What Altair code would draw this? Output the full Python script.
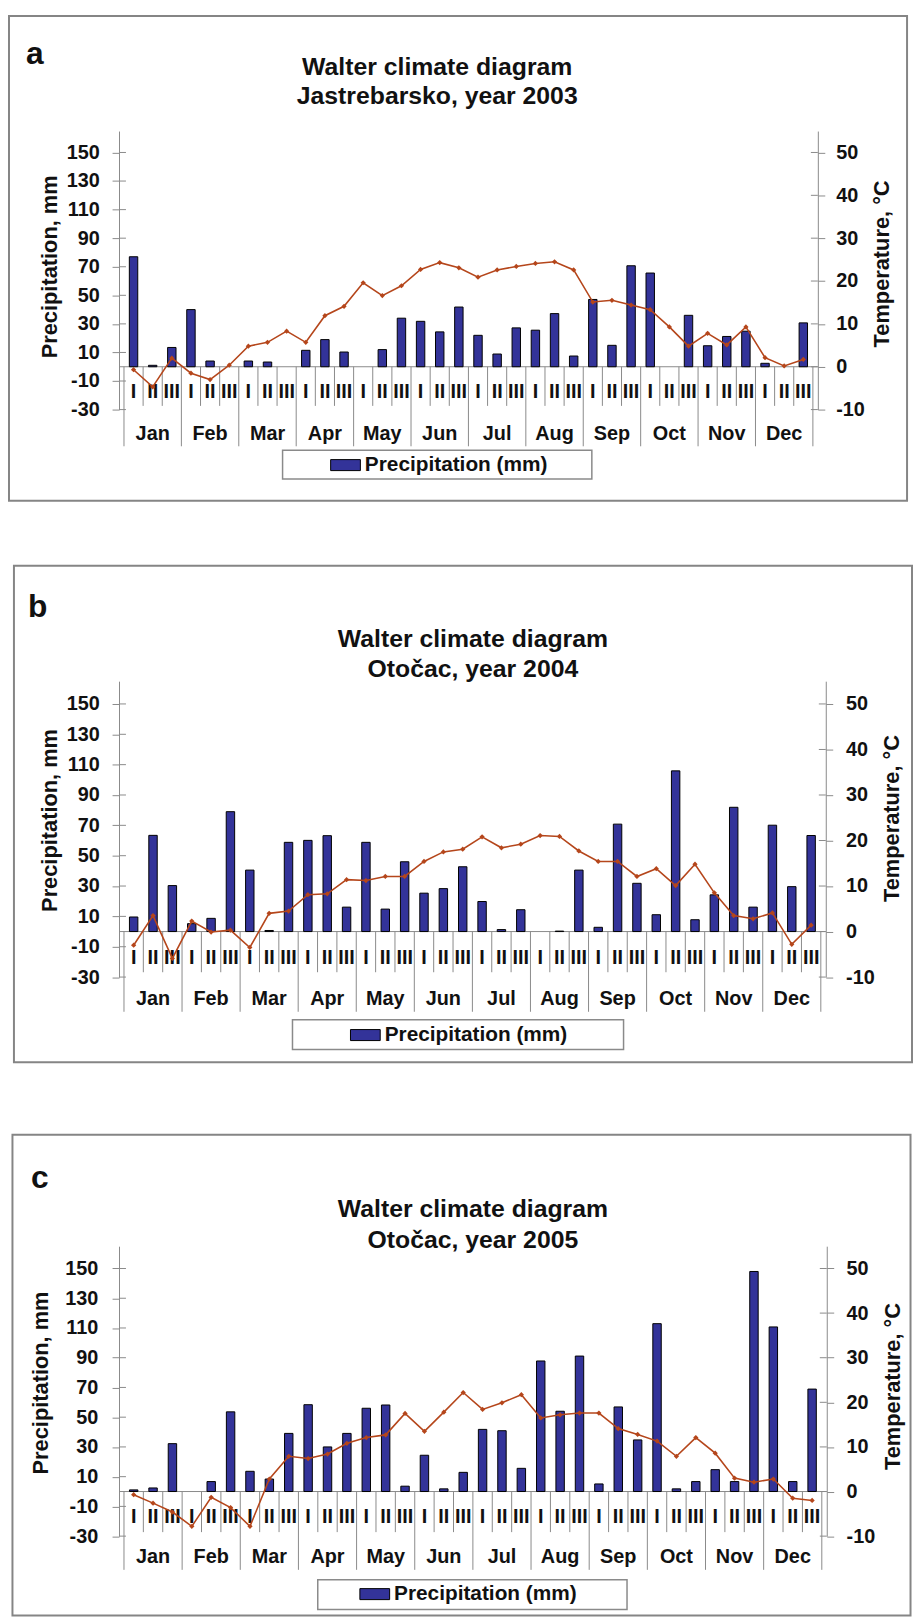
import altair as alt
import pandas as pd

# ---------------- data ----------------
MONTHS = ["Jan", "Feb", "Mar", "Apr", "May", "Jun", "Jul", "Aug", "Sep", "Oct", "Nov", "Dec"]
DEKADS = ["I", "II", "III"]

P_2003 = [77, 1, 13.5, 40, 4, 0, 4, 3.3, 0, 11.5, 19, 10.3, 0, 12, 34, 31.8, 24.4, 41.8,
          22, 8.9, 27.2, 25.6, 37.2, 7.5, 47.1, 15, 70.7, 65.6, 0, 36, 14.7, 21.2, 24.9, 2.4, 0, 30.7]
T_2003 = [-0.7, -4.7, 2.0, -1.5, -3.0, 0.35, 4.8, 5.7, 8.3, 5.7, 11.9, 14.1, 19.6, 16.6, 18.9, 22.7, 24.3, 23.1,
          20.9, 22.6, 23.4, 24.1, 24.5, 22.6, 15.1, 15.5, 14.4, 13.3, 9.3, 4.8, 7.8, 5.1, 9.3, 2.1, 0.2, 1.7]

P_2004 = [9.6, 63.4, 30.3, 5.2, 8.7, 79, 40.5, 0.7, 58.8, 60.1, 63.2, 16.1, 58.8, 14.8, 46, 25.3, 28.3, 42.7,
          19.8, 1.3, 14.4, 0, 0.3, 40.5, 2.8, 70.8, 31.8, 11.1, 105.9, 7.8, 24.2, 81.9, 16.1, 70.1, 29.6, 63.3]
T_2004 = [-3.0, 3.5, -5.9, 2.3, -0.1, 0.3, -3.5, 4.0, 4.5, 8.1, 8.3, 11.4, 11.2, 12.1, 12.1, 15.4, 17.5, 18.1,
          20.8, 18.4, 19.2, 21.1, 20.9, 17.7, 15.4, 15.4, 12.1, 13.8, 10.1, 14.8, 8.5, 3.5, 2.8, 4.1, -2.8, 1.4]

P_2005 = [1.1, 2.4, 32.2, 0, 6.7, 53.6, 13.6, 8.4, 39.1, 58.4, 30, 39.1, 56, 58.2, 3.6, 24.4, 1.8, 12.9,
          41.8, 40.9, 15.6, 87.8, 54, 91.1, 5.1, 56.9, 34.7, 112.9, 1.8, 6.7, 14.7, 6.7, 148, 110.7, 6.7, 68.9]
T_2005 = [-0.7, -2.6, -4.6, -7.8, -1.3, -3.6, -7.8, 2.8, 7.9, 7.4, 8.4, 10.8, 12.1, 12.7, 17.5, 13.5, 17.8, 22.2,
          18.4, 19.9, 21.7, 16.5, 17.2, 17.6, 17.6, 14.1, 12.8, 11.3, 7.9, 12.1, 8.6, 3.0, 2.1, 2.8, -1.5, -2.0]

P_TICKS = [-30, -10, 10, 30, 50, 70, 90, 110, 130, 150]
T_TICKS = [-10, 0, 10, 20, 30, 40, 50]

TITLE = "Walter climate diagram"
SUBTITLES = ["Jastrebarsko, year 2003", "Otočac, year 2004", "Otočac, year 2005"]
LETTERS = ["a", "b", "c"]
LEGEND_LABEL = "Precipitation (mm)"
Y_LEFT_TITLE = "Precipitation, mm"
Y_RIGHT_TITLE = "Temperature, °C"

PRECIP = [P_2003, P_2004, P_2005]
TEMP = [T_2003, T_2004, T_2005]

# ---------------- style ----------------
FONT = "Liberation Sans"
BAR_C = "#333399"
LINE_C = "#b5461b"
GRID_C = "#8a8a8a"
TXT_C = "#111111"

P_SCALE = alt.Scale(domain=[-30, 165], nice=False, zero=False)
T_SCALE = alt.Scale(domain=[-10, 55], nice=False, zero=False)
X_SCALE = alt.Scale(domain=[0, 36], nice=False, zero=False)

LAYOUT = [
    dict(W=705, H=281, frame=(-111, -116, 795, 373), spacer=373, title_x=321, title_y=(-57, -27),
         letter=(-85, -68), ltitle=(-70, 137), rtitle=(770, 134), box=(165, 322, 477, 351),
         leg=(213, 336.5), month_y=305.5, month_ext=318, roman=-18, dek=-27.4, lpad=13, rpad=11),
    dict(W=713, H=298.5, frame=(-106, -116.5, 800, 384.5), spacer=392.5, title_x=357, title_y=(-34.5, -4.5),
         letter=(-82, -64.5), ltitle=(-70, 140.5), rtitle=(780, 138.5), box=(175, 341.5, 509, 371.5),
         leg=(233, 356.5), month_y=321, month_ext=333.5, roman=-17.3, dek=-26.8, lpad=13, rpad=13),
    dict(W=714, H=292.5, frame=(-107.5, -112.5, 798.5, 372.5), spacer=372.5, title_x=357, title_y=(-29.5, 1.5),
         letter=(-80, -58.5), ltitle=(-78.5, 138), rtitle=(780.5, 141.5), box=(200.5, 336.5, 512.5, 366.5),
         leg=(242.5, 350.5), month_y=314, month_ext=326.5, roman=-17, dek=-27.3, lpad=14.5, rpad=12.5),
]


def X(field):
    return alt.X(field, type="quantitative", scale=X_SCALE, axis=None)


def text_at(txt, x, y, size, angle=0, baseline="alphabetic"):
    one = pd.DataFrame({"k": [0]})
    kw = dict(text=txt, fontSize=size, fontWeight="bold", color=TXT_C, font=FONT,
              align="center", baseline=baseline)
    if angle:
        kw["angle"] = angle
    return alt.Chart(one).mark_text(**kw).encode(x=alt.value(x), y=alt.value(y))


def panel(i):
    L = LAYOUT[i]
    W, H = L["W"], L["H"]
    df = pd.DataFrame({
        "xc": [k + 0.5 for k in range(36)],
        "P": PRECIP[i],
        "T": TEMP[i],
        "dek": [DEKADS[k % 3] for k in range(36)],
        "series": [LEGEND_LABEL] * 36,
    })
    one = pd.DataFrame({"k": [0]})
    dek_b = pd.DataFrame({"k": [k for k in range(1, 36) if k % 3]})
    mon_b = pd.DataFrame({"k": [3 * m for m in range(13)]})
    months = pd.DataFrame({"xm": [3 * m + 1.5 for m in range(12)], "name": MONTHS})
    pticks = pd.DataFrame({"v": P_TICKS})
    tticks = pd.DataFrame({"v": T_TICKS})

    # identical axis definition on every P-layer so that the merged axis stays enabled
    left_axis = alt.Axis(orient="left", values=P_TICKS, title=None, grid=False,
                         tickSize=7, tickColor=GRID_C, domainColor=GRID_C,
                         labelFont=FONT, labelFontSize=20, labelFontWeight="bold",
                         labelColor=TXT_C, labelPadding=L["lpad"],
                         labelExpr="'' + datum.value")
    right_axis = alt.Axis(orient="right", values=T_TICKS, title=None, grid=False,
                          tickSize=7, tickColor=GRID_C, domainColor=GRID_C,
                          labelFont=FONT, labelFontSize=20, labelFontWeight="bold",
                          labelColor=TXT_C, labelPadding=L["rpad"],
                          labelExpr="'' + datum.value")

    def PY(field):
        return alt.Y(field, type="quantitative", scale=P_SCALE, axis=left_axis)

    def PDatum(v):
        return alt.YDatum(v, type="quantitative", scale=P_SCALE, axis=left_axis)

    fx0, fy0, fx1, fy1 = L["frame"]
    frame = alt.Chart(one).mark_rect(filled=False, stroke="#858585", strokeWidth=2).encode(
        x=alt.value(fx0), x2=alt.value(fx1), y=alt.value(fy0), y2=alt.value(fy1))
    spacer = alt.Chart(one).mark_rect(opacity=0).encode(
        x=alt.value(fx0), x2=alt.value(fx0 + 1), y=alt.value(fy0), y2=alt.value(L["spacer"]))

    lticks = alt.Chart(pticks).mark_rule(color=GRID_C).encode(
        x=alt.value(0), x2=alt.value(7), y=PY("v"))
    zero = alt.Chart(one).mark_rule(color=GRID_C, strokeWidth=1).encode(
        x=alt.value(0), x2=alt.value(W), y=PDatum(0))
    dek_sep = alt.Chart(dek_b).mark_rule(color=GRID_C, strokeWidth=1).encode(
        x=X("k"), y=PDatum(0), y2=alt.Y2Datum(L["dek"]))
    mon_sep = alt.Chart(mon_b).mark_rule(color=GRID_C, strokeWidth=1).encode(
        x=X("k"), y=PDatum(0), y2=alt.value(L["month_ext"]))

    legend = alt.Legend(orient="none", legendX=L["leg"][0], legendY=L["leg"][1] - 15, title=None,
                        symbolType="M-1,-0.37H1V0.37H-1Z", symbolSize=900,
                        symbolStrokeColor="black", symbolStrokeWidth=1,
                        labelFont=FONT, labelFontSize=21, labelFontWeight="bold",
                        labelColor=TXT_C, labelOffset=4, labelLimit=400, padding=0)
    bars = alt.Chart(df).transform_filter("datum.P > 0").mark_bar(
        size=8.5, stroke="black", strokeWidth=1).encode(
        x=X("xc"),
        y=PY("P"),
        y2=alt.Y2Datum(0),
        color=alt.Color("series:N", scale=alt.Scale(domain=[LEGEND_LABEL], range=[BAR_C]), legend=legend),
    )

    roman = alt.Chart(df).mark_text(fontSize=20, fontWeight="bold", font=FONT, color=TXT_C,
                                    baseline="middle").encode(
        x=X("xc"), y=PDatum(L["roman"]), text="dek:N")
    mon_txt = alt.Chart(months).mark_text(fontSize=20, fontWeight="bold", font=FONT, color=TXT_C,
                                          baseline="middle").encode(
        x=X("xm"), y=alt.value(L["month_y"]), text="name:N")

    bx0, by0, bx1, by1 = L["box"]
    leg_box = alt.Chart(one).mark_rect(fill="white", stroke="#8a8a8a", strokeWidth=1.5).encode(
        x=alt.value(bx0), x2=alt.value(bx1), y=alt.value(by0), y2=alt.value(by1))

    t1 = text_at(TITLE, L["title_x"], L["title_y"][0], 25)
    t2 = text_at(SUBTITLES[i], L["title_x"], L["title_y"][1], 25)
    let = text_at(LETTERS[i], L["letter"][0], L["letter"][1], 32)
    ylt = text_at(Y_LEFT_TITLE, L["ltitle"][0], L["ltitle"][1], 22, angle=270, baseline="middle")
    yrt = text_at(Y_RIGHT_TITLE, L["rtitle"][0], L["rtitle"][1], 22, angle=270, baseline="middle")

    pg = alt.layer(lticks, frame, spacer, leg_box, zero, dek_sep, mon_sep, bars, roman, mon_txt,
                   t1, t2, let, ylt, yrt)

    line = alt.Chart(df).mark_line(
        color=LINE_C, strokeWidth=1.6,
        point=alt.OverlayMarkDef(shape="diamond", size=28, filled=True, color=LINE_C)).encode(
        x=X("xc"), y=alt.Y("T", type="quantitative", scale=T_SCALE, axis=right_axis))
    rticks = alt.Chart(tticks).mark_rule(color=GRID_C).encode(
        x=alt.value(W - 7), x2=alt.value(W),
        y=alt.Y("v", type="quantitative", scale=T_SCALE, axis=right_axis))
    tg = alt.layer(line, rticks)

    return alt.layer(pg, tg).resolve_scale(y="independent").properties(width=W, height=H)


chart = alt.vconcat(panel(0), panel(1), panel(2), spacing=63).resolve_scale(
    color="independent").properties(
    padding={"left": 0, "top": 0, "right": 0, "bottom": 0}
).configure(font=FONT).configure_view(strokeWidth=0)

chart.save("out.html", embed_options={"renderer": "svg", "actions": False})
